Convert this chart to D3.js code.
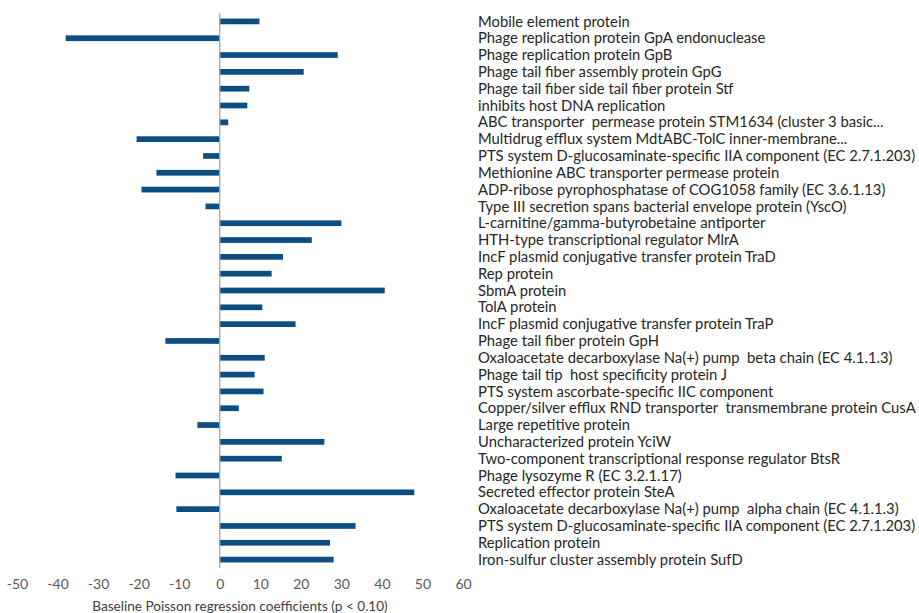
<!DOCTYPE html>
<html>
<head>
<meta charset="utf-8">
<script src="https://cdn.jsdelivr.net/npm/d3@7"></script>
<style>
  body { margin: 0; background: #fff; }
  text { font-family: Lato, "Open Sans", sans-serif; }
</style>
</head>
<body>
<div id="chart"></div>
<script>
// protein labels, top to bottom
const proteins = [
  "Mobile element protein",
  "Phage replication protein GpA endonuclease",
  "Phage replication protein GpB",
  "Phage tail fiber assembly protein GpG",
  "Phage tail fiber side tail fiber protein Stf",
  "inhibits host DNA replication",
  "ABC transporter  permease protein STM1634 (cluster 3 basic...",
  "Multidrug efflux system MdtABC-TolC inner-membrane...",
  "PTS system D-glucosaminate-specific IIA component (EC 2.7.1.203)",
  "Methionine ABC transporter permease protein",
  "ADP-ribose pyrophosphatase of COG1058 family (EC 3.6.1.13)",
  "Type III secretion spans bacterial envelope protein (YscO)",
  "L-carnitine/gamma-butyrobetaine antiporter",
  "HTH-type transcriptional regulator MlrA",
  "IncF plasmid conjugative transfer protein TraD",
  "Rep protein",
  "SbmA protein",
  "TolA protein",
  "IncF plasmid conjugative transfer protein TraP",
  "Phage tail fiber protein GpH",
  "Oxaloacetate decarboxylase Na(+) pump  beta chain (EC 4.1.1.3)",
  "Phage tail tip  host specificity protein J",
  "PTS system ascorbate-specific IIC component",
  "Copper/silver efflux RND transporter  transmembrane protein CusA",
  "Large repetitive protein",
  "Uncharacterized protein YciW",
  "Two-component transcriptional response regulator BtsR",
  "Phage lysozyme R (EC 3.2.1.17)",
  "Secreted effector protein SteA",
  "Oxaloacetate decarboxylase Na(+) pump  alpha chain (EC 4.1.1.3)",
  "PTS system D-glucosaminate-specific IIA component (EC 2.7.1.203)",
  "Replication protein",
  "Iron-sulfur cluster assembly protein SufD"
];
// regression coefficients
const coefs = [9.8, -38.0, 29.1, 20.7, 7.3, 6.8, 2.1, -20.5, -4.1, -15.6, -19.3,
  -3.5, 30.0, 22.7, 15.6, 12.8, 40.7, 10.5, 18.7, -13.4, 11.1, 8.6, 10.8,
  4.7, -5.5, 25.8, 15.3, -10.9, 48.0, -10.7, 33.5, 27.2, 28.1];
const xTicks = [-50, -40, -30, -20, -10, 0, 10, 20, 30, 40, 50, 60];
const xTitle = "Baseline Poisson regression coefficients (p < 0.10)";

let width = 919, height = 613;
let svg = d3.select('#chart').append('svg')
  .attr('width', width).attr('height', height);

let x = d3.scaleLinear().domain([-50, 60]).range([17, 463]);
let y = d3.scaleBand().domain(proteins.map((d, i) => i))
  .range([13, 568]).paddingInner(0.66).paddingOuter(0.33);

let data = proteins.map((p, i) => ({name: p, i: i, v: coefs[i]}));

// bars
svg.append('g').selectAll('rect')
  .data(data).enter().append('rect')
  .attr('x', d => x(Math.min(0, d.v)))
  .attr('width', d => Math.abs(x(d.v) - x(0)))
  .attr('y', d => y(d.i))
  .attr('height', y.bandwidth())
  .style('fill', '#0e4d82');

// zero line
svg.append('line')
  .attr('x1', x(0)).attr('x2', x(0))
  .attr('y1', 13).attr('y2', 568)
  .style('stroke', '#a6a6a6')
  .style('stroke-width', '1.3px');

// x axis (labels only)
let xAxis = d3.axisBottom(x).tickValues(xTicks).tickSize(0).tickPadding(0)
  .tickFormat(d => String(d));
let gx = svg.append('g').attr('transform', 'translate(0,579)').call(xAxis);
gx.select('.domain').remove();
gx.selectAll('text')
  .style('font-family', 'Lato, sans-serif')
  .style('font-size', '14px')
  .style('fill', '#595959');

svg.append('text')
  .attr('x', 240).attr('y', 611)
  .attr('text-anchor', 'middle')
  .style('font-size', '13.6px')
  .style('fill', '#404040')
  .text(xTitle);

// category labels on right
svg.append('g').selectAll('text')
  .data(data).enter().append('text')
  .attr('x', 478)
  .attr('y', d => y(d.i) + y.bandwidth() / 2)
  .attr('dy', '0.35em')
  .style('font-size', '14.8px')
  .style('fill', '#262626')
  .style('white-space', 'pre')
  .text(d => d.name);
</script>
</body>
</html>
